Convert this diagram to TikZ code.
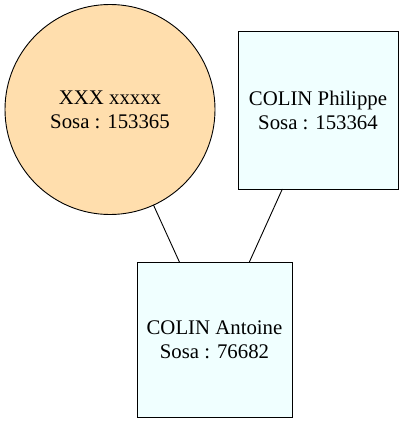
\documentclass[tikz,border=0pt]{standalone}
\usepackage{fontspec}
\setmainfont{Liberation Serif}
\definecolor{circfill}{HTML}{FFDEAD}
\definecolor{boxfill}{HTML}{F0FFFF}
\begin{document}
\begin{tikzpicture}[x=1pt,y=-1pt,
  person/.style={draw=black, line width=0.9pt, inner sep=0pt, outer sep=0pt, align=center, font=\fontsize{20.8}{24}\selectfont},
  female/.style={person, circle, fill=circfill, minimum size=210pt},
  male/.style={person, rectangle, fill=boxfill},
  link/.style={line width=0.9pt}]
\useasboundingbox (0,0) rectangle (403,423);
\node[female] (a) at (110,109.5) {XXX xxxxx\\Sosa : 153365};
\node[male, minimum width=160pt, minimum height=158pt] (b) at (318,110) {COLIN Philippe\\Sosa : 153364};
\node[male, minimum width=155pt, minimum height=155pt] (c) at (214.5,339.5) {COLIN Antoine\\Sosa : 76682};
\draw[link] (a) -- (c);
\draw[link] (b) -- (c);
\end{tikzpicture}
\end{document}
